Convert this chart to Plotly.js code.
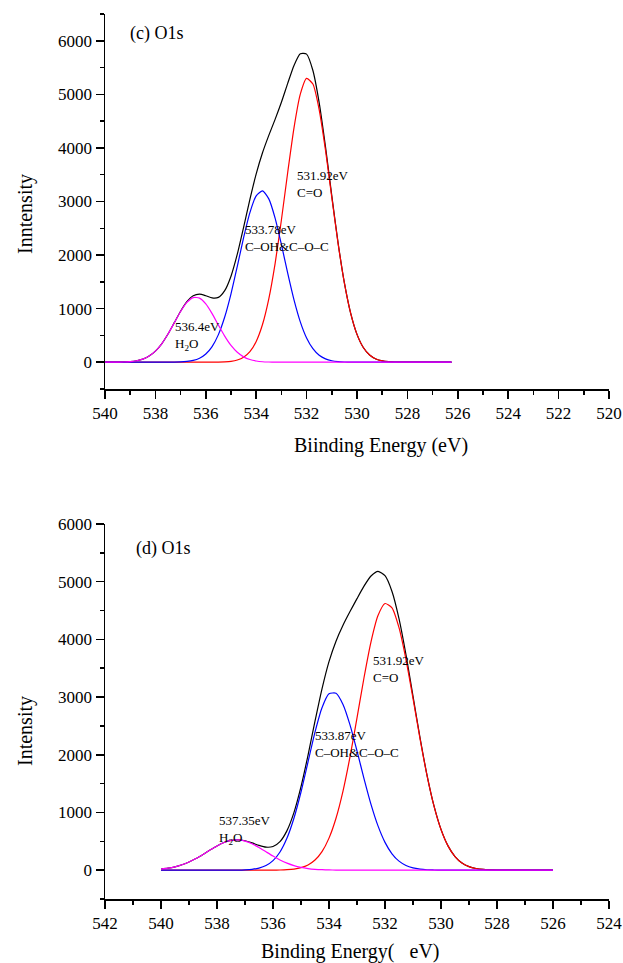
<!DOCTYPE html>
<html><head><meta charset="utf-8">
<script src="https://cdn.plot.ly/plotly-3.0.1.min.js"></script>
<style>html,body{margin:0;padding:0;background:#fff}#chart{width:623px;height:963px}</style>
</head><body><div id="chart"></div>
<script>
// ---- panel (c) O1s ----
const energyC = [540,539.75,539.5,539.25,539,538.75,538.5,538.25,538,537.75,537.5,537.25,537,536.75,536.5,536.25,536,535.75,535.5,535.25,535,534.75,534.5,534.25,534,533.75,533.5,533.25,533,532.75,532.5,532.25,532,531.75,531.5,531.25,531,530.75,530.5,530.25,530,529.75,529.5,529.25,529,528.75,528.5,528.25,528,527.75,527.5,527.25,527,526.75,526.5,526.25];
const envelopeC = [0,1,2,4,11,27,57,114,207,344,527,739,952,1130,1240,1270,1241,1200,1210,1336,1606,2016,2518,3040,3516,3910,4235,4533,4852,5204,5540,5758,5751,5445,4841,4020,3105,2226,1480,912,520,275,135,61,26,10,4,1,0,0,0,0,0,0,0,0];
const coC = [0,0,0,0,0,0,0,0,0,0,0,0,0,0,0,0,0,1,2,6,16,41,93,197,387,703,1182,1841,2654,3542,4376,5004,5298,5193,4712,3958,3078,2215,1476,911,520,275,135,61,26,10,4,1,0,0,0,0,0,0,0,0];
const cohC = [0,0,0,0,0,0,0,0,0,0,1,2,5,14,33,74,153,292,515,843,1277,1790,2325,2793,3106,3198,3049,2691,2198,1662,1164,754,453,252,129,62,27,11,4,1,0,0,0,0,0,0,0,0,0,0,0,0,0,0,0,0];
const h2oC = [0,1,2,4,11,27,57,114,207,344,526,737,947,1116,1207,1196,1088,907,693,487,313,185,100,50,23,9,4,1,0,0,0,0,0,0,0,0,0,0,0,0,0,0,0,0,0,0,0,0,0,0,0,0,0,0,0,0];

// ---- panel (d) O1s ----
const energyD = [540,539.75,539.5,539.25,539,538.75,538.5,538.25,538,537.75,537.5,537.25,537,536.75,536.5,536.25,536,535.75,535.5,535.25,535,534.75,534.5,534.25,534,533.75,533.5,533.25,533,532.75,532.5,532.25,532,531.75,531.5,531.25,531,530.75,530.5,530.25,530,529.75,529.5,529.25,529,528.75,528.5,528.25,528,527.75,527.5,527.25,527,526.75,526.5,526.25,526];
const envelopeD = [19,34,58,94,142,202,273,349,420,479,516,526,510,473,429,398,410,495,685,1001,1446,1991,2582,3144,3615,3969,4245,4482,4706,4922,5098,5180,5104,4831,4359,3731,3016,2299,1649,1113,706,421,236,124,61,29,12,5,2,1,0,0,0,0,0,0,0];
const coD = [0,0,0,0,0,0,0,0,0,0,0,0,0,0,0,0,1,3,8,19,43,89,175,321,555,900,1371,1963,2639,3335,3958,4413,4622,4547,4203,3650,2977,2281,1642,1110,705,421,236,124,61,29,12,5,2,1,0,0,0,0,0,0,0];
const cohD = [0,0,0,0,0,0,0,0,0,0,1,2,6,15,36,80,165,315,556,904,1355,1874,2392,2815,3056,3067,2873,2519,2067,1587,1140,767,482,284,156,81,39,18,7,3,1,0,0,0,0,0,0,0,0,0,0,0,0,0,0,0,0];
const h2oD = [19,34,58,94,142,202,273,349,420,479,515,524,504,458,393,318,244,177,121,78,48,28,15,8,4,2,1,0,0,0,0,0,0,0,0,0,0,0,0,0,0,0,0,0,0,0,0,0,0,0,0,0,0,0,0,0,0];

// ---- text ----
const panelLabels = ['(c) O1s', '(d) O1s'];
const peakLabelsC = ['531.92eV<br>C=O', '533.78eV<br>C\u2013OH&amp;C\u2013O\u2013C', '536.4eV<br>H<sub>2</sub>O'];
const peakLabelsD = ['531.92eV<br>C=O', '533.87eV<br>C\u2013OH&amp;C\u2013O\u2013C', '537.35eV<br>H<sub>2</sub>O'];
const xTitles = ['Biinding Energy (eV)', 'Binding Energy(\u00a0\u00a0\u00a0eV)'];
const yTitles = ['Inntensity', 'Intensity'];

const serif = '"Liberation Serif", "Times New Roman", serif';
const colors = {env: '#000000', co: '#ff0000', coh: '#0000ff', h2o: '#ff00ff'};

function tr(x, y, color, xa, ya) {
  return {x: x, y: y, type: 'scatter', mode: 'lines', xaxis: xa, yaxis: ya,
          line: {color: color, width: 1.2, shape: 'spline', smoothing: 0.6}, hoverinfo: 'skip'};
}
const data = [
  tr(energyC, envelopeC, colors.env, 'x', 'y'),
  tr(energyC, coC, colors.co, 'x', 'y'),
  tr(energyC, cohC, colors.coh, 'x', 'y'),
  tr(energyC, h2oC, colors.h2o, 'x', 'y'),
  tr(energyD, envelopeD, colors.env, 'x2', 'y2'),
  tr(energyD, coD, colors.co, 'x2', 'y2'),
  tr(energyD, cohD, colors.coh, 'x2', 'y2'),
  tr(energyD, h2oD, colors.h2o, 'x2', 'y2')
];

const tickFont = {family: serif, size: 17, color: '#000'};
function xAxis(domain, range, anchor) {
  return {domain: domain, range: range, anchor: anchor, showline: true, linecolor: '#000', linewidth: 1.5,
    ticks: 'outside', ticklen: 8, tickwidth: 1.5, tickcolor: '#000', tick0: 0, dtick: 2,
    showgrid: false, zeroline: false, tickfont: tickFont, fixedrange: true,
    minor: {ticks: 'outside', ticklen: 4, tickwidth: 1.5, tickcolor: '#000', dtick: 1, showgrid: false}};
}
function yAxis(domain, range, anchor) {
  return {domain: domain, range: range, anchor: anchor, showline: true, linecolor: '#000', linewidth: 1.5,
    ticks: 'outside', ticklen: 8, tickwidth: 1.5, tickcolor: '#000', tick0: 0, dtick: 1000,
    showgrid: false, zeroline: false, tickfont: tickFont, fixedrange: true,
    minor: {ticks: 'outside', ticklen: 4, tickwidth: 1.5, tickcolor: '#000', dtick: 500, showgrid: false}};
}

const W = 623, H = 963;
const xDom = [105 / W, 609 / W];
const annFont = {family: serif, size: 13, color: '#000'};
function peakAnn(text, x, y, xr, yr) {
  return {text: text, x: x, y: y, xref: xr, yref: yr, xanchor: 'left', yanchor: 'middle', align: 'left',
          showarrow: false, font: annFont};
}
const annotations = [
  {text: panelLabels[0], x: 539.1, y: 6130, xref: 'x', yref: 'y', xanchor: 'left', yanchor: 'middle', showarrow: false, font: {family: serif, size: 18, color: '#000'}},
  {text: panelLabels[1], x: 540.95, y: 5570, xref: 'x2', yref: 'y2', xanchor: 'left', yanchor: 'middle', showarrow: false, font: {family: serif, size: 18, color: '#000'}},
  peakAnn(peakLabelsC[0], 532.46, 3320, 'x', 'y'),
  peakAnn(peakLabelsC[1], 534.52, 2320, 'x', 'y'),
  peakAnn(peakLabelsC[2], 537.30, 490, 'x', 'y'),
  peakAnn(peakLabelsD[0], 532.5, 3495, 'x2', 'y2'),
  peakAnn(peakLabelsD[1], 534.57, 2190, 'x2', 'y2'),
  peakAnn(peakLabelsD[2], 538.0, 690, 'x2', 'y2'),
  {text: xTitles[0], x: 381 / W, y: 1 - 445 / H, xref: 'paper', yref: 'paper', xanchor: 'center', yanchor: 'middle', showarrow: false, font: {family: serif, size: 20, color: '#000'}},
  {text: xTitles[1], x: 350 / W, y: 1 - 951 / H, xref: 'paper', yref: 'paper', xanchor: 'center', yanchor: 'middle', showarrow: false, font: {family: serif, size: 20, color: '#000'}},
  {text: yTitles[0], x: 25 / W, y: 1 - 214 / H, xref: 'paper', yref: 'paper', xanchor: 'center', yanchor: 'middle', textangle: -90, showarrow: false, font: {family: serif, size: 20, color: '#000'}},
  {text: yTitles[1], x: 25 / W, y: 1 - 731 / H, xref: 'paper', yref: 'paper', xanchor: 'center', yanchor: 'middle', textangle: -90, showarrow: false, font: {family: serif, size: 20, color: '#000'}}
];

const layout = {
  width: W, height: H, margin: {l: 0, r: 0, t: 0, b: 0},
  paper_bgcolor: '#fff', plot_bgcolor: '#fff', showlegend: false,
  xaxis: xAxis(xDom, [540, 520], 'y'),
  yaxis: yAxis([1 - 389 / H, 1 - 14 / H], [-500, 6500], 'x'),
  xaxis2: xAxis(xDom, [542, 524], 'y2'),
  yaxis2: yAxis([1 - 899 / H, 1 - 524 / H], [-500, 6000], 'x2'),
  annotations: annotations,
  font: {family: serif, color: '#000'}
};

Plotly.newPlot('chart', data, layout, {staticPlot: true, displayModeBar: false});
</script>
</body></html>
